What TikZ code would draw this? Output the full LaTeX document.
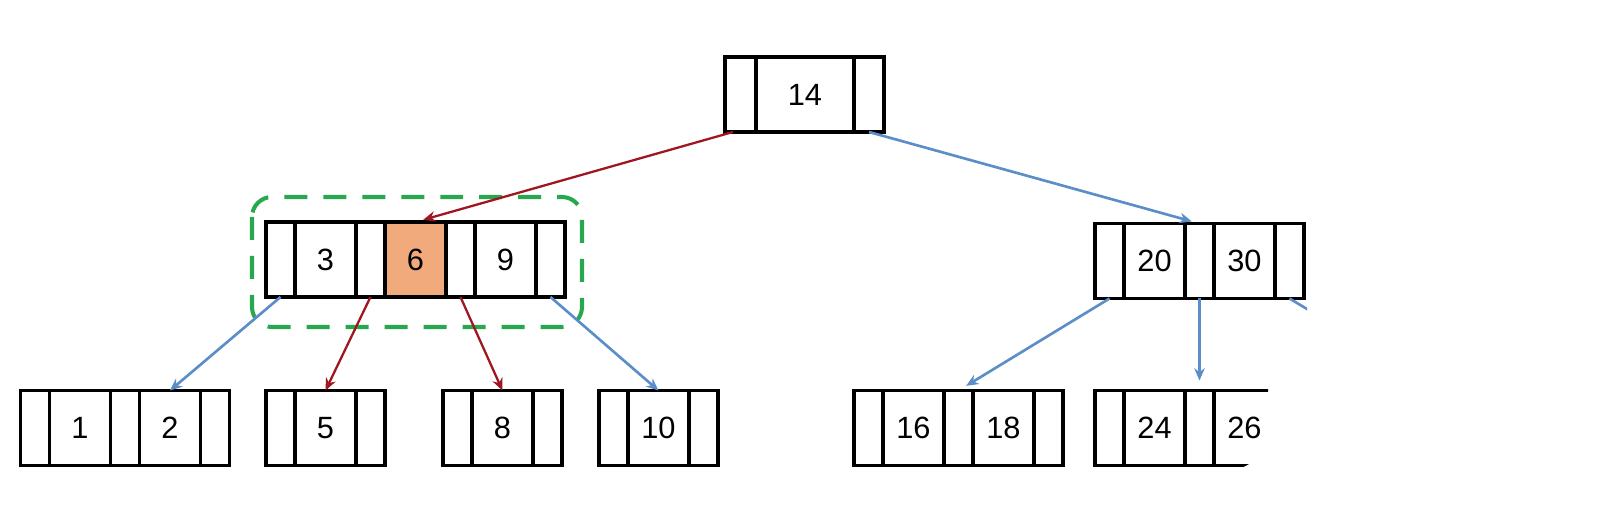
\documentclass[tikz,border=0pt]{standalone}
\usepackage{fontspec}
\setmainfont{Liberation Sans}
\usetikzlibrary{positioning,arrows.meta}
\definecolor{ptrblue}{RGB}{91,141,200}
\definecolor{ptrred}{RGB}{160,22,32}
\definecolor{hitorange}{RGB}{241,170,124}
\definecolor{selgreen}{RGB}{40,168,78}
\tikzset{
	cell/.style={draw, line width=2pt, minimum height=1.5cm, inner sep=0pt, outer sep=0pt,
		font=\fontsize{17.5}{20}\selectfont},
	ptr/.style={cell, minimum width=0.58cm},
	key/.style={cell, minimum width=1.22cm},
	blink/.style={-{Stealth[length=7pt,width=6pt]}, color=ptrblue, line width=1.5pt},
	rlink/.style={-{Stealth[length=7pt,width=6pt]}, color=ptrred, line width=1.3pt},
	selbox/.style={draw=selgreen, line width=2.3pt, dash pattern=on 0.46cm off 0.32cm, rounded corners=0.4cm}}

\begin{document}
\begin{tikzpicture}[x=0.02cm, y=-0.02cm]
\useasboundingbox (0,0) rectangle (1605,524);

% root
\node[ptr, minimum width=0.62cm, anchor=west] (n14p0) at (725,94.5) {};
\node[key, minimum width=1.96cm, right=0pt of n14p0] (n14k) {14};
\node[ptr, minimum width=0.6cm, right=0pt of n14k] (n14p1) {};

% level 1, left
\node[ptr, anchor=west] (n369p0) at (266,259.5) {};
\node[key, right=0pt of n369p0] (n369k3) {3};
\node[ptr, right=0pt of n369k3] (n369p1) {};
\node[key, fill=hitorange, right=0pt of n369p1] (n369k6) {6};
\node[ptr, right=0pt of n369k6] (n369p2) {};
\node[key, right=0pt of n369p2] (n369k9) {9};
\node[ptr, right=0pt of n369k9] (n369p3) {};
\draw[selbox] (252,197) rectangle (582,327);

% level 1, right
\node[ptr, anchor=west] (n2030p0) at (1095,261) {};
\node[key, right=0pt of n2030p0] (n2030k20) {20};
\node[ptr, right=0pt of n2030k20] (n2030p1) {};
\node[key, right=0pt of n2030p1] (n2030k30) {30};
\node[ptr, right=0pt of n2030k30] (n2030p2) {};

% leaves
\node[ptr, anchor=west] (n12p0) at (20.5,428) {};
\node[key, right=0pt of n12p0] (n12k1) {1};
\node[ptr, right=0pt of n12k1] (n12p1) {};
\node[key, right=0pt of n12p1] (n12k2) {2};
\node[ptr, right=0pt of n12k2] (n12p2) {};

\node[ptr, anchor=west] (n5p0) at (266,428) {};
\node[key, right=0pt of n5p0] (n5k) {5};
\node[ptr, right=0pt of n5k] (n5p1) {};

\node[ptr, anchor=west] (n8p0) at (443,428) {};
\node[key, right=0pt of n8p0] (n8k) {8};
\node[ptr, right=0pt of n8k] (n8p1) {};

\node[ptr, anchor=west] (n10p0) at (599,428) {};
\node[key, right=0pt of n10p0] (n10k) {10};
\node[ptr, right=0pt of n10k] (n10p1) {};

\node[ptr, anchor=west] (n1618p0) at (854,428) {};
\node[key, right=0pt of n1618p0] (n1618k16) {16};
\node[ptr, right=0pt of n1618k16] (n1618p1) {};
\node[key, right=0pt of n1618p1] (n1618k18) {18};
\node[ptr, right=0pt of n1618k18] (n1618p2) {};

% cut off on the right
\begin{scope}
\clip (0,0) -- (1307,0) -- (1307,315) -- (1268,315) -- (1268,430)
	.. controls (1268,452) and (1250,470) .. (1228,470) -- (0,470) -- cycle;
\node[ptr, anchor=west] (n2426p0) at (1095,428) {};
\node[key, right=0pt of n2426p0] (n2426k24) {24};
\node[ptr, right=0pt of n2426k24] (n2426p1) {};
\node[key, right=0pt of n2426p1] (n2426k26) {26};
\node[ptr, right=0pt of n2426k26] (n2426p2) {};
\draw[blink, -] (n2030p2.south) -- ++(45,27);
\end{scope}

% search path
\draw[rlink, shorten >=0.16cm] ([xshift=-0.15cm]n14p0.south) -- (n369k6.north);
\draw[rlink] (n369p1.south) -- (n5k.north);
\draw[rlink] (n369p2.south) -- (n8k.north);

% other pointers
\draw[blink, shorten >=0.16cm] (n14p1.south) -- (n2030p1.north);
\draw[blink] (n369p0.south) -- (n12k2.north);
\draw[blink] (n369p3.south) -- (n10k.north);
\draw[blink, shorten >=0.18cm] (n2030p0.south) -- (n1618p1.north);
\draw[blink, shorten >=0.2cm] (n2030p1.south) -- (n2426p1.north);
\end{tikzpicture}
\end{document}
